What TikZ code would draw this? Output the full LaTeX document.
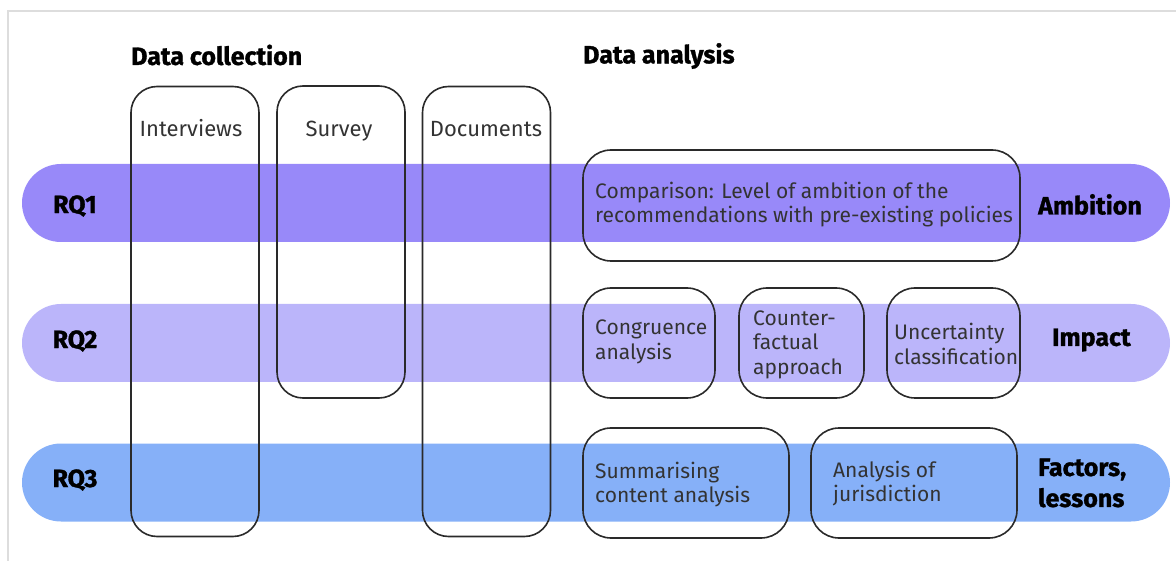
\documentclass[tikz,border=0pt]{standalone}
\usepackage{fontspec}
\setmainfont{Fira Sans}[BoldFeatures={FakeBold=1.2}]
\definecolor{rqone}{HTML}{9889F9}
\definecolor{rqtwo}{HTML}{BBB5FA}
\definecolor{rqthree}{HTML}{86B0F8}
\definecolor{boxline}{HTML}{2A2A2A}
\definecolor{bodytext}{HTML}{333333}
\definecolor{framegray}{HTML}{DDDDDD}
\begin{document}
\begin{tikzpicture}[x=1pt,y=-1pt,
  band/.style={draw=none, rounded corners=39pt, minimum width=1148pt,
    minimum height=78pt, inner sep=0pt, outer sep=0pt},
  frame/.style={draw=framegray, line width=2pt},
  colbox/.style={draw=boxline, line width=1.6pt, rounded corners=26pt,
    inner sep=0pt, outer sep=0pt, minimum width=128pt},
  anbox/.style={draw=boxline, line width=1.6pt, rounded corners=28pt,
    inner sep=0pt, outer sep=0pt, minimum height=110pt},
  body/.style={text=bodytext, inner sep=0pt, align=left,
    font=\fontsize{21}{24.5}\selectfont},
  collabel/.style={text=bodytext, inner sep=0pt, anchor=base,
    font=\fontsize{22}{26}\selectfont},
  heading/.style={text=black, inner sep=0pt,
    font=\fontsize{25}{30}\selectfont\bfseries},
  rqlabel/.style={text=black, inner sep=0pt,
    font=\fontsize{25}{30}\selectfont\bfseries},
  aspect/.style={text=black, inner sep=0pt, align=left,
    font=\fontsize{25}{31}\selectfont\bfseries},
]
\useasboundingbox (0,0) rectangle (1176,561);

% thin page frame along the top and left
\draw[frame] (8,561) -- (8,11) -- (1176,11);

% research-question bands
\node[band, fill=rqone]   (rq1band) at (596,203) {};
\node[band, fill=rqtwo]   (rq2band) at (596,343) {};
\node[band, fill=rqthree] (rq3band) at (596,482.5) {};

\node[rqlabel] (rq1) at (75,206) {RQ1};
\node[rqlabel] (rq2) at (75,341) {RQ2};
\node[rqlabel] (rq3) at (75,480) {RQ3};

\node[aspect, anchor=west] (ambition) at (1038,204.5) {Ambition};
\node[aspect, anchor=west] (impact)   at (1052,340) {Impact};
\node[aspect, anchor=west] (factors)  at (1038,483) {Factors,\\lessons};

% column headings
\node[heading, anchor=west] (collection) at (131,55) {Data collection};
\node[heading, anchor=west] (analysis)   at (583,56) {Data analysis};

% data collection columns
\node[colbox, minimum height=450pt] (interviews) at (195,311.5) {};
\node[colbox, minimum height=312pt] (survey)     at (341,242) {};
\node[colbox, minimum height=450pt] (documents)  at (486.5,311.5) {};

\node[collabel] (interviewsT) at (191,136.5) {Interviews};
\node[collabel] (surveyT)     at (339,136.5) {Survey};
\node[collabel] (documentsT)  at (486,136.5) {Documents};

% data analysis methods
\node[anbox, minimum width=437pt, minimum height=111pt] (comparison) at (801.5,205.5) {};
\node[anbox, minimum width=132pt] (congruence)  at (649,343) {};
\node[anbox, minimum width=125pt] (counterfact) at (801.5,343) {};
\node[anbox, minimum width=133pt] (uncertainty) at (953.5,343) {};
\node[anbox, minimum width=206pt] (summarising) at (686,483) {};
\node[anbox, minimum width=206pt] (jurisdiction) at (914,483) {};

\node[body, anchor=west] (comparisonT) at (595,204.5)
  {Comparison: Level of ambition of the\\recommendations with pre-existing policies};
\node[body, anchor=west] (congruenceT)  at (595,342) {Congruence\\analysis};
\node[body, anchor=west] (counterfactT) at (753,344.5) {Counter-\\factual\\approach};
\node[body, anchor=west] (uncertaintyT) at (894,344) {Uncertainty\\classification};
\node[body, anchor=west] (summarisingT) at (595,484.5) {Summarising\\content analysis};
\node[body, anchor=west] (jurisdictionT) at (833,483.5) {Analysis of\\jurisdiction};
\end{tikzpicture}
\end{document}
